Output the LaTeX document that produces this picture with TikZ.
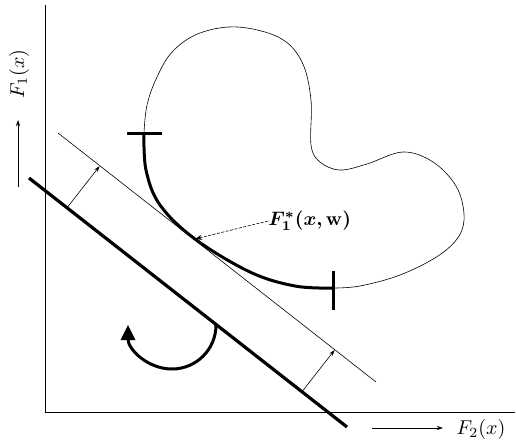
\documentclass[tikz,border=0pt]{standalone}
\usepackage{amsmath,bm}
\usetikzlibrary{arrows.meta,calc}
\begin{document}
\begin{tikzpicture}[x=1pt,y=-1pt,
  thinline/.style={line width=0.6pt},
  thickline/.style={line width=3.2pt},
  axislabel/.style={scale=2, inner sep=0pt},
  smallarrow/.style={line width=0.6pt,-{Stealth[length=6pt,width=4pt]}}]
\useasboundingbox (0,0) rectangle (516,445);
% axes
\coordinate (ytop) at (45,5);
\coordinate (O) at (45,412);
\coordinate (xend) at (515,412);
\draw[line width=0.8pt] (ytop) -- (O) -- (xend);
% axis labels
\coordinate (a1s) at (18,187);
\coordinate (a1e) at (18,120);
\draw[smallarrow] (a1s) -- (a1e);
\node[axislabel, rotate=90] (f1) at (19,74) {$F_1(x)$};
\coordinate (a2s) at (372,428);
\coordinate (a2e) at (443,428);
\draw[smallarrow] (a2s) -- (a2e);
\node[axislabel] (f2) at (481,429) {$F_2(x)$};
% thick line and thin parallel line
\coordinate (L1) at (29,178);
\coordinate (L2) at (347,427);
\draw[thickline] (L1) -- (L2);
\coordinate (T1) at (58,133);
\coordinate (T2) at (376,382);
\draw[thinline] (T1) -- (T2);
% perpendicular arrows
\coordinate (p1) at (67,207.8);
\coordinate (q1) at (99.6,166.1);
\coordinate (p2) at (302,391.7);
\coordinate (q2) at (334.6,350);
\draw[smallarrow] (p1) -- (q1);
\draw[smallarrow] (p2) -- (q2);
% rotation arrow
\coordinate (rs) at (216,325);
\draw[line width=3pt,-{Triangle[length=15pt,width=14pt]}] (rs) arc[start angle=0,end angle=180,radius=44];
% blob thin part
\draw[thinline] plot[smooth,tension=0.6] coordinates {
 (144,133) (147,105) (157,77) (173,51) (200,33) (238,27) (280,38) (302,62) (311,100)
 (311,145) (320,162) (340,170) (367,164) (403,152) (433,162) (456,186) (464,214)
 (459,236) (438,256) (400,275) (360,286) (333,288)};
% blob thick part
\draw[line width=3pt] plot[smooth,tension=0.6] coordinates {
 (144,133) (146,170) (160,205) (195,239) (250,272) (295,286) (333,288)};
% ticks
\coordinate (tk1a) at (127,133);
\coordinate (tk1b) at (162,133);
\draw[line width=3pt] (tk1a) -- (tk1b);
\coordinate (tk2a) at (333,271);
\coordinate (tk2b) at (333,310);
\draw[line width=3pt] (tk2a) -- (tk2b);
% F1* label
\coordinate (fp) at (195,239);
\node[scale=1.95, anchor=west, inner sep=0pt] (f1s) at (268,221) {$\boldsymbol{F_1^{*}(x,\mathbf{w})}$};
\draw[line width=0.6pt, dashed, dash pattern=on 3pt off 1.5pt, -{Stealth[length=7pt,width=5pt]}] (f1s.west) -- (fp);
\end{tikzpicture}
\end{document}
